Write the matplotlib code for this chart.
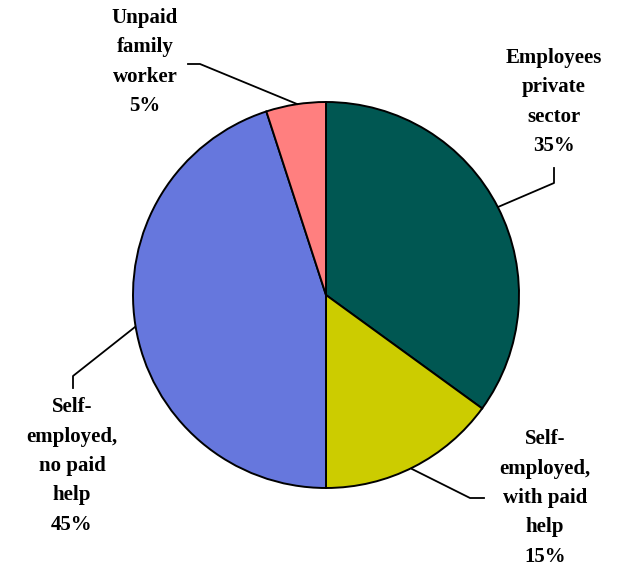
import matplotlib
matplotlib.use('Agg')
import matplotlib.pyplot as plt

# shares of employment by status (percent)
categories = ["Employees\nprivate\nsector", "Self-\nemployed,\nwith paid\nhelp",
              "Self-\nemployed,\nno paid\nhelp", "Unpaid\nfamily\nworker"]
shares = [35, 15, 45, 5]
colors = ['#005752', '#CCCC00', '#6677DD', '#FF7F7F']

W, H = 629, 569
fig = plt.figure(figsize=(W / 100, H / 100), dpi=100)
ax = fig.add_axes([0, 0, 1, 1])

wedges, _ = ax.pie(shares, colors=colors, startangle=90, counterclock=False,
                   center=(326, H - 295), radius=193,
                   wedgeprops=dict(edgecolor='black', linewidth=1.4))
ax.set_xlim(0, W)
ax.set_ylim(0, H)
ax.set_aspect('equal')
ax.axis('off')

# label placement in pixel coords from top-left: (text x, text y, leader points)
layout = [
    (554, 102, [(554, 168), (554, 183), (498, 207)]),
    (545, 498, [(484, 498), (470, 498), (412, 469)]),
    (72, 466, [(73, 388), (73, 376), (135, 327)]),
    (145, 62, [(188, 64), (200, 64), (297, 104)]),
]

for name, pct, (tx, ty, pts) in zip(categories, shares, layout):
    ax.text(tx, H - ty, f"{name}\n{pct}%", ha='center', va='center',
            family='Liberation Serif', weight='bold', fontsize=15,
            linespacing=1.62, color='black')
    xs = [p[0] for p in pts]
    ys = [H - p[1] for p in pts]
    ax.plot(xs, ys, color='black', linewidth=1.3)

fig.savefig('out.png', dpi=100, facecolor='white')
